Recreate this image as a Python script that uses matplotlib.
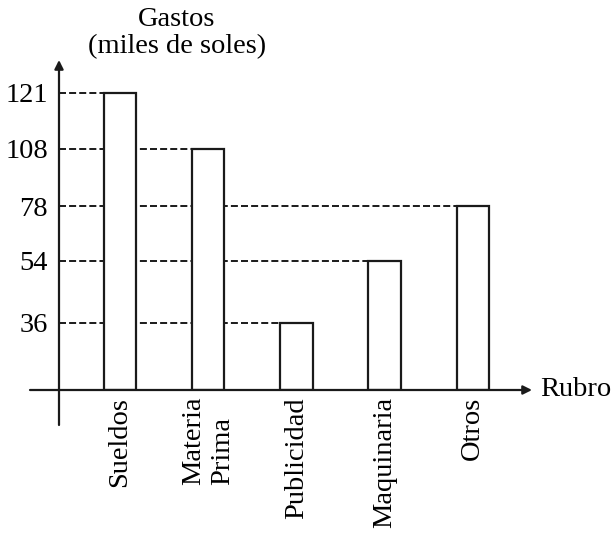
import numpy as np
import matplotlib.pyplot as plt

# ── Data ─────────────────────────────────────────────────────
rubros = ['Sueldos', 'Materia\nPrima', 'Publicidad', 'Maquinaria', 'Otros']
gastos = [121, 108, 36, 54, 78]
y_ticks = [36, 54, 78, 108, 121]

# schematic (non-linear) vertical axis, as in the original drawing
knot_vals = [0, 36, 54, 78, 108, 121, 138]
knot_pos = [0, 67, 129, 184, 241, 297, 330]


def fwd(v):
    return np.interp(v, knot_vals, knot_pos)


def inv(p):
    return np.interp(p, knot_pos, knot_vals)


plt.rcParams['font.family'] = ['Liberation Serif', 'DejaVu Serif']
FS = 20.5

fig = plt.figure(figsize=(6.12, 5.35), dpi=100)
W, H = 612, 535
ax = fig.add_axes([59 / W, (H - 390) / H, 473 / W, 330 / H])
ax.set_yscale('function', functions=(fwd, inv))

x = np.arange(len(rubros))
width = 0.37
ax.set_xlim(-0.69, 4.67)
ax.set_ylim(0, 138)

ax.bar(x, gastos, width, color='white', edgecolor='#1a1a1a', linewidth=1.6, zorder=3)

# dashed guide lines from the axis to each bar
x0 = ax.get_xlim()[0]
for xi, v in zip(x, gastos):
    ax.hlines(v, x0, xi - width / 2, colors='#1a1a1a', linestyles=(0, (3.6, 1.6)),
              linewidth=1.4, zorder=1)

ax.set_yticks(y_ticks)
ax.set_yticklabels([str(t) for t in y_ticks], fontsize=FS)
ax.minorticks_off()
ax.tick_params(axis='y', length=0, pad=8)

ax.set_xticks(x)
ax.set_xticklabels(rubros, rotation=90, fontsize=FS, va='top', ha='center')
for lbl in ax.get_xticklabels():
    lbl.set_multialignment('left')
ax.tick_params(axis='x', length=0, pad=5)

for s in ax.spines.values():
    s.set_visible(False)

# axes with arrow heads
arrow = dict(arrowstyle='-|>', color='#1a1a1a', lw=1.6, mutation_scale=13,
             shrinkA=0, shrinkB=0)
ax.annotate('', xy=(1.0, 0), xytext=(-29 / 473, 0), xycoords='axes fraction',
            textcoords='axes fraction', arrowprops=arrow)
ax.annotate('', xy=(0, 1.0), xytext=(0, -35 / 330), xycoords='axes fraction',
            textcoords='axes fraction', arrowprops=arrow)

ax.text(1.0 + 8 / 473, 0, 'Rubro', transform=ax.transAxes, fontsize=FS,
        ha='left', va='center')
fig.text(177 / W, 1 - 33 / H, 'Gastos\n(miles de soles)', fontsize=FS,
         ha='center', va='center', multialignment='center', linespacing=1.15)

plt.savefig('out.png', dpi=100)
